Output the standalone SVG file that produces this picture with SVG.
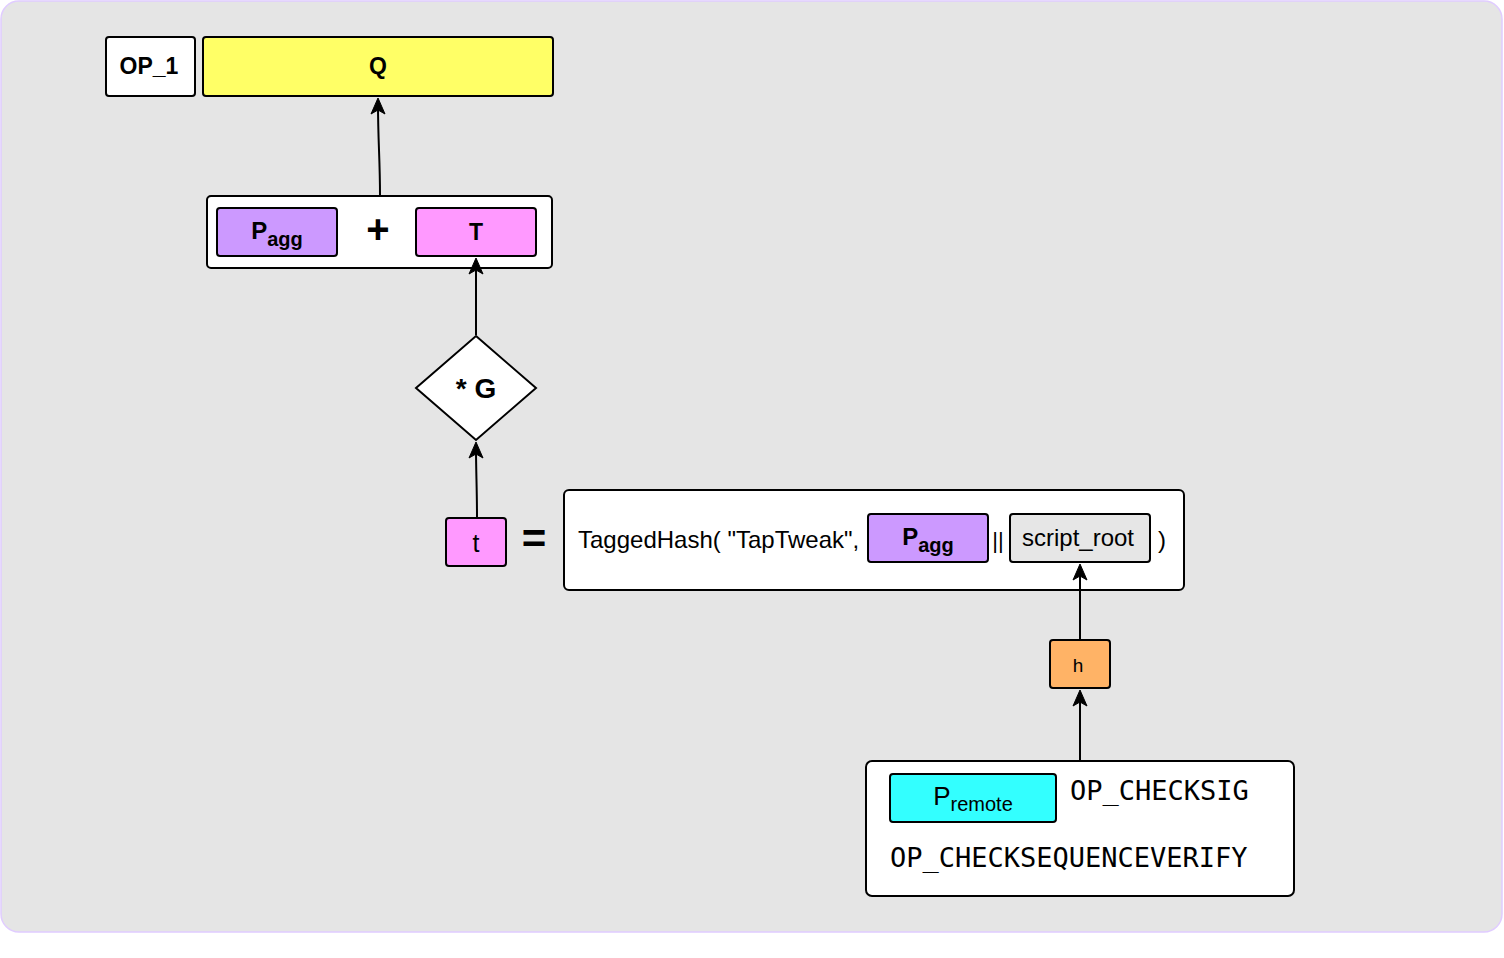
<svg xmlns="http://www.w3.org/2000/svg" width="1504" height="958" viewBox="0 0 1504 958">
<style>
.box{stroke:#000;stroke-width:2}
.w{fill:#fff}
.s{font-family:"Liberation Sans",Arial,sans-serif;fill:#000}
.b{font-weight:bold}
.m{font-family:"DejaVu Sans Mono",monospace;font-size:27px;fill:#000}
.c{stroke:#000;stroke-width:2;fill:none}
.ah{fill:#000;stroke:#000;stroke-width:1}
</style>
<defs>
<path id="head" d="M0,0 L-7,16 L0,12 L7,16 Z"/>
</defs>
<rect x="1" y="1" width="1501" height="931" rx="18" fill="#e5e5e5" stroke="#e0ccff" stroke-width="1.5"/>

<g id="op1">
<rect class="box w" x="106" y="37" width="89" height="59" rx="3"/>
<text class="s b" x="149" y="74" font-size="23" text-anchor="middle">OP_1</text>
</g>
<g id="Q">
<rect class="box" x="203" y="37" width="350" height="59" rx="3" fill="#ffff66"/>
<text class="s b" x="378" y="74" font-size="23" text-anchor="middle">Q</text>
</g>

<g id="sum">
<rect class="box w" x="207" y="196" width="345" height="72" rx="4"/>
<g id="pagg1">
<rect class="box" x="217" y="208" width="120" height="48" rx="3" fill="#cc99ff"/>
<text class="s b" x="277" y="239" text-anchor="middle"><tspan font-size="24">P</tspan><tspan font-size="20" dy="7">agg</tspan></text>
</g>
<text class="s b" x="378" y="243" font-size="40" text-anchor="middle">+</text>
<g id="T">
<rect class="box" x="416" y="208" width="120" height="48" rx="3" fill="#ff99ff"/>
<text class="s b" x="476" y="240" font-size="23" text-anchor="middle">T</text>
</g>
</g>

<g id="mulG">
<polygon class="box w" points="476,336 536,388 476,440 416,388"/>
<text class="s b" x="476" y="398" font-size="28" text-anchor="middle">* G</text>
</g>

<g id="t">
<rect class="box" x="446" y="518" width="60" height="48" rx="3" fill="#ff99ff"/>
<text class="s" x="476" y="552" font-size="25" text-anchor="middle">t</text>
</g>
<text class="s b" x="534" y="553" font-size="42" text-anchor="middle">=</text>

<g id="taggedhash">
<rect class="box w" x="564" y="490" width="620" height="100" rx="5"/>
<text class="s" x="578" y="548" font-size="24">TaggedHash( "TapTweak",</text>
<g id="pagg2">
<rect class="box" x="868" y="514" width="120" height="48" rx="3" fill="#cc99ff"/>
<text class="s b" x="928" y="545" text-anchor="middle"><tspan font-size="24">P</tspan><tspan font-size="20" dy="7">agg</tspan></text>
</g>
<text class="s" x="998" y="548" font-size="22" text-anchor="middle">||</text>
<g id="script_root">
<rect class="box" x="1010" y="514" width="140" height="48" rx="3" fill="#e6e6e6"/>
<text class="s" x="1078" y="546" font-size="24" text-anchor="middle">script_root</text>
</g>
<text class="s" x="1162" y="548" font-size="24" text-anchor="middle">)</text>
</g>

<g id="h">
<rect class="box" x="1050" y="640" width="60" height="48" rx="3" fill="#ffb366"/>
<text class="s" x="1078" y="672" font-size="19" text-anchor="middle">h</text>
</g>

<g id="script">
<rect class="box w" x="866" y="761" width="428" height="135" rx="6"/>
<g id="premote">
<rect class="box" x="890" y="774" width="166" height="48" rx="3" fill="#33ffff"/>
<text class="s" x="973" y="805" text-anchor="middle"><tspan font-size="26">P</tspan><tspan font-size="20" dy="6">remote</tspan></text>
</g>
<text class="m" x="1070" y="800">OP_CHECKSIG</text>
<text class="m" x="890" y="867">OP_CHECKSEQUENCEVERIFY</text>
</g>

<g id="connectors">
<path class="c" d="M380,195 C380,160 378,140 378,105"/>
<use href="#head" class="ah" x="378" y="98"/>
<path class="c" d="M476,335 L476,265"/>
<use href="#head" class="ah" x="476" y="258"/>
<path class="c" d="M477,517 C477,490 476,470 476,449"/>
<use href="#head" class="ah" x="476" y="442"/>
<path class="c" d="M1080,639 L1080,571"/>
<use href="#head" class="ah" x="1080" y="564"/>
<path class="c" d="M1080,760 L1080,697"/>
<use href="#head" class="ah" x="1080" y="690"/>
</g>
</svg>
